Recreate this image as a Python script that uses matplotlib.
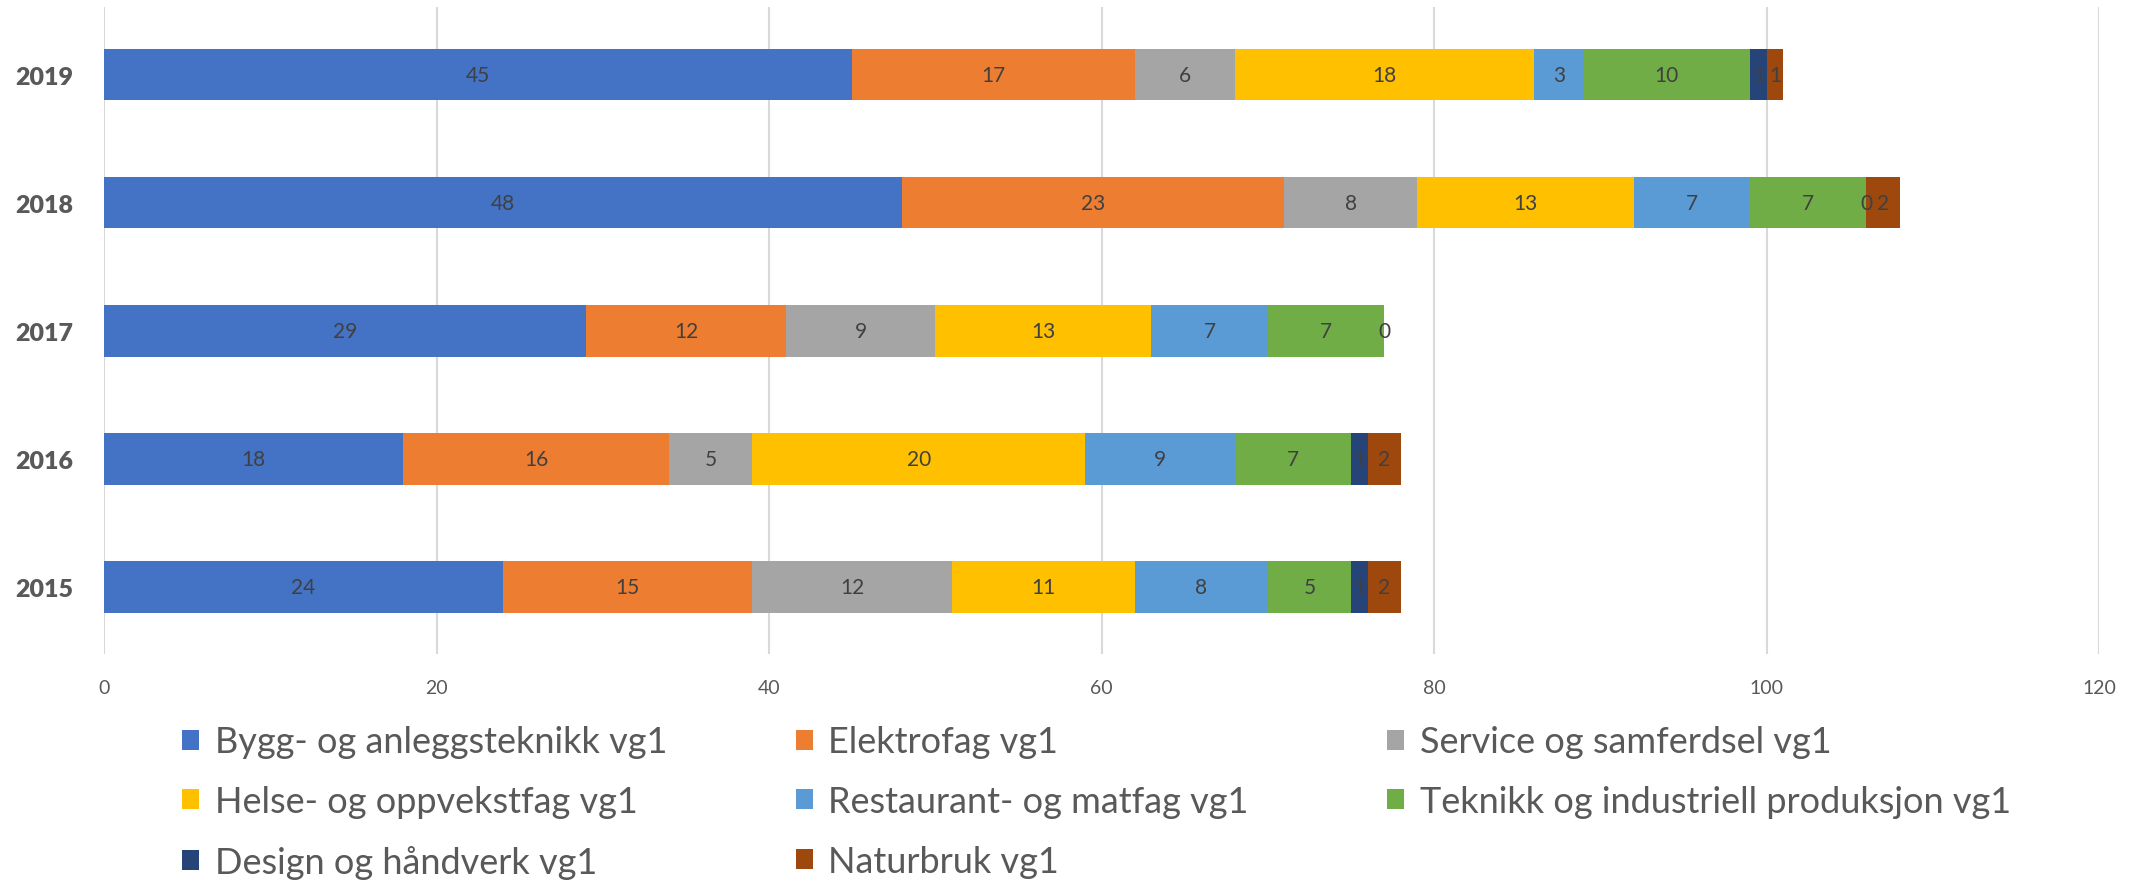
import matplotlib
matplotlib.use("Agg")
import matplotlib.pyplot as plt
import numpy as np

# ---------- Data ----------
years = ["2015", "2016", "2017", "2018", "2019"]
series_names = [
    "Bygg- og anleggsteknikk vg1",
    "Elektrofag vg1",
    "Service og samferdsel vg1",
    "Helse- og oppvekstfag vg1",
    "Restaurant- og matfag vg1",
    "Teknikk og industriell produksjon vg1",
    "Design og håndverk vg1",
    "Naturbruk vg1",
]
bygg = [24, 18, 29, 48, 45]
elektro = [15, 16, 12, 23, 17]
service = [12, 5, 9, 8, 6]
helse = [11, 20, 13, 13, 18]
restaurant = [8, 9, 7, 7, 3]
teknikk = [5, 7, 7, 7, 10]
design = [1, 1, 0, 0, 1]
naturbruk = [2, 2, np.nan, 2, 1]
x_ticks = [0, 20, 40, 60, 80, 100, 120]

colors = ["#4472C4", "#ED7D31", "#A5A5A5", "#FFC000",
          "#5B9BD5", "#70AD47", "#264478", "#9E480E"]

plt.rcParams['font.family'] = ['Lato', 'DejaVu Sans']

fig = plt.figure(figsize=(21.54, 8.87), dpi=100)
ax = fig.add_axes([0.0483, 0.262, 0.9262, 0.729])

series = [bygg, elektro, service, helse, restaurant, teknikk, design, naturbruk]
ypos = np.arange(len(years))
left = np.zeros(len(years))
handles = []
for name, vals, col in zip(series_names, series, colors):
    v = np.array(vals, dtype=float)
    bars = ax.barh(ypos, np.nan_to_num(v), left=left, height=0.4,
                   color=col, label=name, zorder=3)
    handles.append(bars)
    for i, val in enumerate(v):
        if np.isnan(val):
            continue
        ax.text(left[i] + val / 2, ypos[i], f"{int(val)}", ha='center',
                va='center', fontsize=15, color='#404040', zorder=4)
    left += np.nan_to_num(v)

ax.set_xlim(0, 120)
ax.set_ylim(-0.52, 4.53)
ax.set_xticks(x_ticks)
ax.set_xticklabels([str(t) for t in x_ticks], fontsize=14, color='#595959')
ax.set_yticks(ypos)
ax.set_yticklabels(years, fontsize=18, fontweight='heavy', color='#595959')
ax.tick_params(axis='both', length=0)
ax.tick_params(axis='x', pad=18)
ax.tick_params(axis='y', pad=22)
ax.grid(axis='x', color='#D9D9D9', lw=1.5, zorder=0)
for s in ax.spines.values():
    s.set_visible(False)

# legend: three columns, filled row by row like the original
col_x = [0.0845, 0.3695, 0.644]
columns = [[0, 3, 6], [1, 4, 7], [2, 5]]
for cx, idx in zip(col_x, columns):
    fig.legend([handles[i] for i in idx], [series_names[i] for i in idx],
               loc='upper left', bbox_to_anchor=(cx, 0.181),
               frameon=False, fontsize=26, labelcolor='#595959',
               handlelength=0.47, handleheight=0.47, handletextpad=0.43,
               labelspacing=0.74, borderpad=0, borderaxespad=0)

fig.savefig("out.png", dpi=100)
